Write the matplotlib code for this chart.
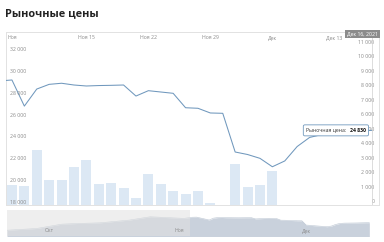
import numpy as np
import pandas as pd
import matplotlib
matplotlib.use("Agg")
import matplotlib.pyplot as plt
import matplotlib.dates as mdates
import matplotlib.transforms as mtransforms
from matplotlib.patches import FancyBboxPatch

plt.rcParams['font.family'] = ['Open Sans', 'DejaVu Sans']

# ---------------- data ----------------
title = "Рыночные цены"
start_date = "2021-11-04"
end_date = "2021-12-16"
# market price per trading day (Nov 4 .. Dec 16, 2021)
prices = [29350, 29440, 27050, 28610, 29040, 29140, 28980, 28890, 28930, 28950, 28980,
          27970, 28460, 28340, 28220, 26900, 26850, 26420, 26390, 22850, 22620, 22270,
          21500, 22030, 23350, 24180, 24450, 24600, 24700, 24780, 24830]
# traded volume per day (nan = no bar)
volumes = [np.nan, 1380, 1330, 3790, 1700, 1750, 2640, 3100, 1470, 1520, 1200,
           490, 2150, 1460, 980, 730, 980, 120, np.nan, 2830, 1240, 1350,
           2340, np.nan, np.nan, np.nan, np.nan, np.nan, np.nan, np.nan, np.nan]

x_tick_dates = ["2021-11-05", "2021-11-15", "2021-11-22", "2021-11-29", "2021-12-06", "2021-12-13"]
x_tick_labels = ["Ноя", "Ноя 15", "Ноя 22", "Ноя 29", "Дек", "Дек 13"]
price_ticks = [18000, 20000, 22000, 24000, 26000, 28000, 30000, 32000]
volume_ticks = [0, 1000, 2000, 3000, 4000, 5000, 6000, 7000, 8000, 9000, 10000, 11000]

flag_label = "Дек 16, 2021"
tooltip_name = "Рыночная цена:"

# earlier history shown only in the navigator
nav_hist_dates = ["2021-09-21", "2021-09-28", "2021-10-04", "2021-10-08", "2021-10-13",
                  "2021-10-20", "2021-10-25", "2021-10-28", "2021-11-02"]
nav_hist_values = [18560, 19990, 23600, 24190, 24700, 26970, 29740, 29240, 28400]
nav_month_dates = ["2021-10-01", "2021-11-01", "2021-12-01"]
nav_month_labels = ["Окт", "Ноя", "Дек"]
nav_selection_start = "2021-11-03 08:00"

# ---------------- styles ----------------
LINE_C = '#7098bd'
BAR_C = '#dce8f4'
LABEL_C = '#8a8a8a'
FRAME_C = '#e2e2e2'
FS = 3.7

def fmt(v):
    return f"{int(v):,}".replace(",", " ")

dates = pd.bdate_range(start_date, end_date)
xs = np.arange(len(prices))
date_pos = {d.strftime("%Y-%m-%d"): i for i, d in enumerate(dates)}

fig = plt.figure(figsize=(3.84, 2.42), dpi=100)
W, H = 384, 242

fig.text(5 / W, 1 - 15.7 / H, title, fontsize=7.8, fontweight='bold', color='#222222',
         va='baseline', ha='left')

# main plot
axv = fig.add_axes([6 / W, 1 - 205 / H, 373 / W, 173 / H])
axp = axv.twinx()
axv.bar(xs, volumes, width=0.8, color=BAR_C, zorder=1)
VMAX = 11930
PMIN, PMAX = 18000, 33830
axv.set_ylim(0, VMAX)
axp.plot(xs, prices, color=LINE_C, lw=0.75, zorder=3)
axp.set_ylim(PMIN, PMAX)
axv.set_xlim(0.52, len(prices) - 1 + 0.6)

for a in (axv, axp):
    a.set_xticks([])
    a.set_yticks([])
    for s in a.spines.values():
        s.set_color(FRAME_C)
        s.set_linewidth(0.6)

# left price labels (inside)
trans_l = mtransforms.blended_transform_factory(axp.transAxes, axp.transData)
for v in price_ticks:
    axp.annotate(fmt(v), xy=(0, v), xycoords=trans_l, xytext=(3.5, 2.5),
                 textcoords='offset pixels', ha='left', va='center',
                 fontsize=FS, color=LABEL_C)
# right volume labels (inside)
for v in volume_ticks:
    axp.annotate(fmt(v), xy=(1, v * (PMAX - PMIN) / VMAX + PMIN), xycoords=trans_l,
                 xytext=(-4.5, 3), textcoords='offset pixels', ha='right', va='center',
                 fontsize=FS, color=LABEL_C, zorder=2)

# top x labels
trans_x = mtransforms.blended_transform_factory(axp.transData, axp.transAxes)
for d, lab in zip(x_tick_dates, x_tick_labels):
    axp.annotate(lab, xy=(date_pos[d], 1), xycoords=trans_x, xytext=(0, -6),
                 textcoords='offset pixels', ha='center', va='center',
                 fontsize=FS, color=LABEL_C, zorder=2)

# crosshair + date flag
last = xs[-1]
axp.axvline(last, color='#cfcfcf', lw=0.5, zorder=2)
axp.annotate(flag_label, xy=(last, 1), xycoords=trans_x, xytext=(6.5, -2),
             textcoords='offset pixels', ha='right', va='center', fontsize=FS,
             color='white', zorder=6,
             bbox=dict(boxstyle='square,pad=0.35', fc='#8c8c8c', ec='none'))

# tooltip: two texts + box
val_txt = axp.annotate(fmt(prices[-1]), xy=(last, prices[-1]), xytext=(-6, 0),
                       textcoords='offset pixels', ha='right', va='center',
                       fontsize=FS, fontweight='bold', color='#111111', zorder=8)
fig.canvas.draw()
r = fig.canvas.get_renderer()
bb = val_txt.get_window_extent(r)
name_txt = axp.annotate(tooltip_name, xy=(last, prices[-1]),
                        xytext=(-6 - bb.width - 3, 0), textcoords='offset pixels',
                        ha='right', va='center', fontsize=FS, color='#333333', zorder=8)
fig.canvas.draw()
bb2 = name_txt.get_window_extent(r)
x_left, x_right = bb2.x0 - 3, bb.x1 + 3
yc = (bb.y0 + bb.y1) / 2
box = FancyBboxPatch((x_left, yc - 5.5), x_right - x_left, 11,
                     boxstyle='round,pad=0,rounding_size=1.5', fc='white', ec=LINE_C,
                     lw=0.6, transform=None, zorder=7)
axp.add_artist(box)

# navigator
axn = fig.add_axes([7 / W, 1 - 236 / H, 369 / W, 26 / H])
nav_dates = pd.to_datetime(nav_hist_dates).append(dates)
nav_vals = list(nav_hist_values) + list(prices)
axn.fill_between(nav_dates, nav_vals, 0, color='#c9d1dc', lw=0, zorder=1)
axn.plot(nav_dates, nav_vals, color='#bcc6d3', lw=0.4, zorder=2)
axn.set_ylim(13760, 35370)
x0 = pd.Timestamp("2021-09-21")
x1 = pd.Timestamp("2021-12-17 14:00")
axn.set_xlim(x0, x1)
axn.axvspan(x0, pd.Timestamp(nav_selection_start), color='#e1e1e1', alpha=0.55, lw=0, zorder=3)
trans_n = mtransforms.blended_transform_factory(axn.transData, axn.transAxes)
for d, lab in zip(nav_month_dates, nav_month_labels):
    axn.annotate(lab, xy=(mdates.date2num(pd.Timestamp(d)), 0), xycoords=trans_n,
                 xytext=(0, 5), textcoords='offset pixels', ha='center', va='center',
                 fontsize=FS, color=LABEL_C, zorder=4)
axn.set_xticks([])
axn.set_yticks([])
for s in axn.spines.values():
    s.set_visible(False)

fig.savefig("out.png", dpi=100)
